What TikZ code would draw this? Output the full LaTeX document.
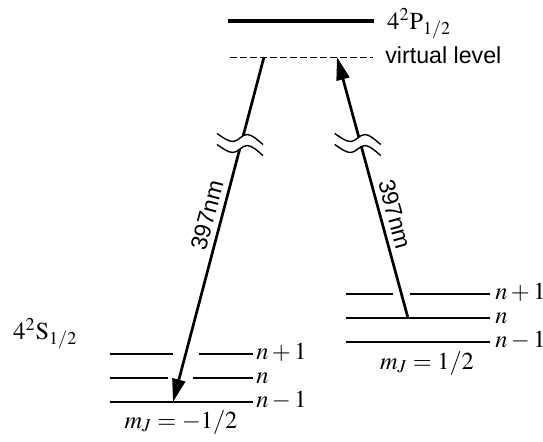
\documentclass[tikz,border=0pt]{standalone}
\usepackage{mathptmx}
\usepackage{fontspec}
\setmainfont{Liberation Serif}
\setsansfont{Liberation Sans}
\usetikzlibrary{arrows.meta,calc}
\tikzset{
  lvl/.style={line width=1.35pt},
  toplvl/.style={line width=2.2pt},
  virt/.style={dashed, dash pattern=on 3.3pt off 1.7pt, line width=0.5pt},
  beam/.style={line width=1.35pt, -{Triangle[length=11.5pt,width=6.5pt]}},
  lbl/.style={font=\fontsize{12.2}{14}\selectfont, inner sep=0pt},
  slbl/.style={font=\sffamily\fontsize{11.6}{13}\selectfont, inner sep=0pt},
  wavebreak/.pic={
    \fill[white] (-25,-7) .. controls (-19,-3) and (-14,1) .. (-9,1)
      .. controls (-4,1) and (0,-6) .. (5,-6)
      .. controls (10,-6) and (15,-1) .. (21,4)
      -- (21,15) .. controls (15,10) and (10,5) .. (5,5)
      .. controls (0,5) and (-4,12) .. (-9,12)
      .. controls (-14,12) and (-19,8) .. (-25,4) -- cycle;
    \draw[line width=0.7pt] (-25,-7) .. controls (-19,-3) and (-14,1) .. (-9,1)
      .. controls (-4,1) and (0,-6) .. (5,-6)
      .. controls (10,-6) and (15,-1) .. (21,4);
    \draw[line width=0.7pt] (-25,4) .. controls (-19,8) and (-14,12) .. (-9,12)
      .. controls (-4,12) and (0,5) .. (5,5)
      .. controls (10,5) and (15,10) .. (21,15);
  }
}
\begin{document}
\begin{tikzpicture}[x=0.5pt, y=-0.5pt]
    \useasboundingbox (0,0) rectangle (543,441);

    % 激发态与虚能级
    \draw[toplvl] (228,21) -- (374,21);
    \node[lbl, anchor=base west] (Plbl) at (387,29) {$4^2\mathrm{P}_{1/2}$};
    \draw[virt] (230,57) -- (373,57);
    \node[slbl, anchor=base west] (vlbl) at (385,63) {virtual level};

    % 基态 m_J=-1/2 的振动能级
    \node[lbl, anchor=base west] (Slbl) at (13,339) {$4^2\mathrm{S}_{1/2}$};
    \draw[lvl] (110,354) -- (173,354) (199,354) -- (253,354);
    \draw[lvl] (110,378) -- (168,378) (193,378) -- (253,378);
    \draw[lvl] (110,402) -- (253,402);
    \node[lbl, anchor=base west] (lnp) at (256,359) {$n+1$};
    \node[lbl, anchor=base west] (lnn) at (256,383) {$n$};
    \node[lbl, anchor=base west] (lnm) at (256,407) {$n-1$};
    \node[lbl, anchor=base] (mjL) at (181,428) {$m_J=-1/2$};

    % 基态 m_J=1/2 的振动能级
    \draw[lvl] (346,294) -- (393,294) (410,294) -- (490,294);
    \draw[lvl] (346,318) -- (490,318);
    \draw[lvl] (346,342) -- (490,342);
    \node[lbl, anchor=base west] (rnp) at (495,299) {$n+1$};
    \node[lbl, anchor=base west] (rnn) at (495,323) {$n$};
    \node[lbl, anchor=base west] (rnm) at (495,347) {$n-1$};
    \node[lbl, anchor=base] (mjR) at (427,369) {$m_J=1/2$};

    % 拉曼光束
    \coordinate (vL) at (264,57);
    \coordinate (gL) at (173,402);
    \coordinate (gR) at (408,318);
    \coordinate (vR) at (337,57);
    \draw[beam] (vL) -- (gL)
        node[slbl, pos=0.47, sloped, above, inner sep=2.6pt] (bL) {397nm};
    \draw[beam] (gR) -- (vR)
        node[slbl, pos=0.383, sloped, above, inner sep=2.6pt] (bR) {397nm};

    % 断开符号
    \pic at ($(vL)!0.242!(gL)$) {wavebreak};
    \pic at ($(gR)!0.68!(vR)$) {wavebreak};
\end{tikzpicture}
\end{document}
